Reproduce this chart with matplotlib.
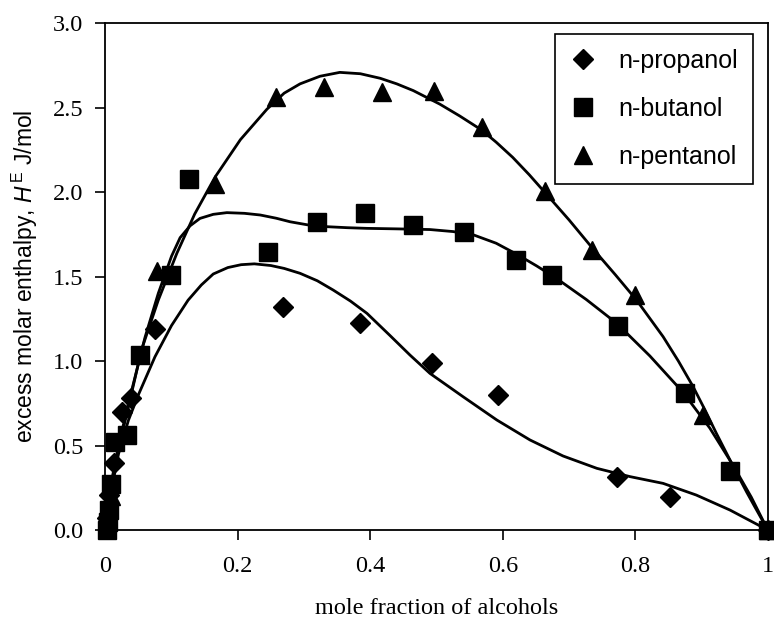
import numpy as np
import matplotlib
matplotlib.use("Agg")
import matplotlib.pyplot as plt

# measured points (mole fraction, H^E)
prop_x = [0.002, 0.006, 0.0126, 0.025, 0.039, 0.0744, 0.268, 0.385, 0.493, 0.593, 0.772, 0.853, 1.0]
prop_y = [0.07, 0.21, 0.395, 0.70, 0.779, 1.187, 1.322, 1.223, 0.988, 0.799, 0.316, 0.193, 0.0]

but_x = [0.002, 0.004, 0.006, 0.008, 0.015, 0.0327, 0.053, 0.0995, 0.127, 0.245, 0.319, 0.392,
         0.465, 0.542, 0.62, 0.674, 0.774, 0.875, 0.943, 1.0]
but_y = [0.0, 0.05, 0.12, 0.27, 0.522, 0.562, 1.035, 1.509, 2.08, 1.647, 1.82, 1.874,
         1.805, 1.765, 1.60, 1.509, 1.208, 0.809, 0.351, 0.0]

pent_x = [0.003, 0.008, 0.078, 0.166, 0.257, 0.330, 0.417, 0.496, 0.568, 0.663, 0.735, 0.80, 0.902, 1.0]
pent_y = [0.05, 0.2, 1.53, 2.05, 2.564, 2.623, 2.594, 2.60, 2.386, 2.008, 1.657, 1.39, 0.68, 0.0]

# fitted curves
prop_cx = [0, 0.01, 0.02, 0.035, 0.05, 0.075, 0.1, 0.125, 0.145, 0.163, 0.185, 0.205, 0.225,
           0.25, 0.27, 0.294, 0.32, 0.344, 0.37, 0.395, 0.43, 0.46, 0.49, 0.54, 0.591, 0.641,
           0.691, 0.742, 0.792, 0.842, 0.892, 0.943, 0.97, 1.0]
prop_cy = [0, 0.25, 0.45, 0.65, 0.80, 1.025, 1.21, 1.36, 1.45, 1.515, 1.553, 1.57, 1.575,
           1.565, 1.548, 1.519, 1.475, 1.42, 1.355, 1.282, 1.15, 1.035, 0.927, 0.789, 0.651, 0.533,
           0.438, 0.365, 0.316, 0.276, 0.207, 0.118, 0.062, 0.0]

but_cx = [0, 0.01, 0.02, 0.035, 0.06, 0.08, 0.1, 0.113, 0.128, 0.143, 0.163, 0.1835, 0.21, 0.234,
          0.258, 0.279, 0.305, 0.334, 0.365, 0.395, 0.44, 0.49, 0.525, 0.556, 0.59, 0.621, 0.651,
          0.681, 0.726, 0.772, 0.822, 0.872, 0.9125, 0.948, 0.975, 1.0]
but_cy = [0, 0.30, 0.50, 0.75, 1.14, 1.40, 1.62, 1.73, 1.80, 1.844, 1.868, 1.878, 1.874, 1.864,
          1.845, 1.824, 1.806, 1.795, 1.789, 1.785, 1.782, 1.778, 1.766, 1.746, 1.697, 1.632, 1.563,
          1.489, 1.364, 1.223, 1.03, 0.815, 0.603, 0.38, 0.195, 0.0]

pent_cx = [0, 0.01, 0.02, 0.035, 0.055, 0.08, 0.108, 0.135, 0.166, 0.204, 0.244, 0.27, 0.294,
           0.324, 0.354, 0.385, 0.415, 0.44, 0.465, 0.505, 0.535, 0.568, 0.59, 0.615, 0.64, 0.663,
           0.7, 0.737, 0.77, 0.802, 0.842, 0.865, 0.887, 0.905, 0.922, 0.938, 0.953, 0.968, 0.98, 1.0]
pent_cy = [0, 0.28, 0.48, 0.73, 1.07, 1.36, 1.637, 1.87, 2.09, 2.31, 2.49, 2.585, 2.64,
           2.685, 2.708, 2.70, 2.673, 2.64, 2.60, 2.52, 2.45, 2.367, 2.295, 2.205, 2.102, 2.0,
           1.835, 1.66, 1.51, 1.36, 1.144, 1.0, 0.85, 0.712, 0.575, 0.452, 0.337, 0.225, 0.14, 0.0]

xticks = [0, 0.2, 0.4, 0.6, 0.8, 1.0]
xticklabels = ["0", "0.2", "0.4", "0.6", "0.8", "1"]
yticks = [0.0, 0.5, 1.0, 1.5, 2.0, 2.5, 3.0]

plt.rcParams["mathtext.fontset"] = "custom"
plt.rcParams["mathtext.rm"] = "Liberation Sans"
plt.rcParams["mathtext.it"] = "Liberation Sans:italic"

fig = plt.figure(figsize=(7.74, 6.24), dpi=100)
ax = fig.add_axes([0.136, 0.1506, 0.856, 0.8125])

for cx, cy in [(prop_cx, prop_cy), (but_cx, but_cy), (pent_cx, pent_cy)]:
    ax.plot(cx, cy, color="black", lw=2.0, solid_joinstyle="round", zorder=2)

ax.plot(prop_x, prop_y, ls="none", marker="D", ms=10, color="black", clip_on=False,
        label="n-propanol", zorder=3)
ax.plot(but_x, but_y, ls="none", marker="s", ms=13.5, color="black", clip_on=False,
        label="n-butanol", zorder=3)
ax.plot(pent_x, pent_y, ls="none", marker="^", ms=13.5, color="black", clip_on=False,
        label="n-pentanol", zorder=3)

ax.set_xlim(0, 1)
ax.set_ylim(0, 3)
ax.set_xticks(xticks)
ax.set_xticklabels(xticklabels)
ax.set_yticks(yticks)
ax.set_yticklabels(["%.1f" % v for v in yticks])
ax.tick_params(direction="out", length=7, width=1.2, pad=9, labelsize=17.5)
ax.tick_params(axis="x", pad=12)
for lab in ax.get_xticklabels() + ax.get_yticklabels():
    lab.set_family("Liberation Serif")
for sp in ax.spines.values():
    sp.set_linewidth(1.3)

ax.set_xlabel("mole fraction of alcohols", family="Liberation Serif", fontsize=17.5, labelpad=15)
ax.set_ylabel(r"excess molar enthalpy, $\mathit{H}^{\,\mathrm{E}}$ J/mol",
              family="Liberation Sans", fontsize=16.5)
ax.yaxis.set_label_coords(-0.098, 0.5)

leg = ax.legend(loc="upper right", bbox_to_anchor=(0.977, 0.978), borderaxespad=0,
                fancybox=False, edgecolor="black", framealpha=1, numpoints=1,
                handlelength=1.0, handletextpad=0.9, borderpad=0.6, labelspacing=0.95,
                prop={"family": "Liberation Sans", "size": 18})
leg.get_frame().set_linewidth(1.2)

fig.savefig("out.png", dpi=100)
